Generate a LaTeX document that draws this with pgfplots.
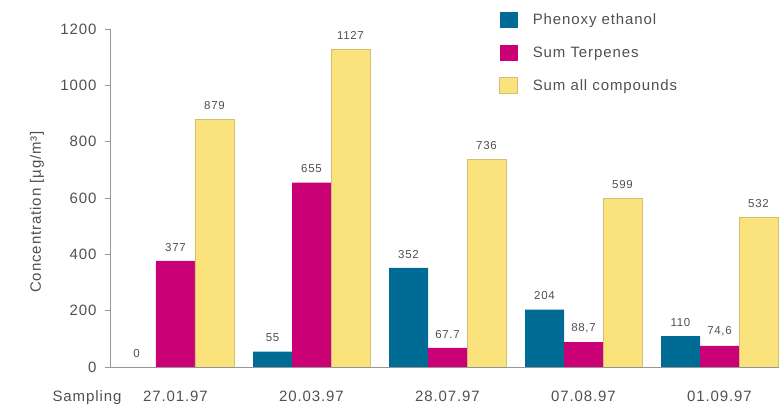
\documentclass[border=0pt]{standalone}
\usepackage{fontspec}
\usepackage{pgfplots}
\pgfplotsset{compat=1.18}
\setmainfont{Liberation Sans}[LetterSpace=6.0]
\newfontfamily\chartfont{Liberation Sans}[LetterSpace=6.0]
\newcommand\lblfont{\chartfont\fontsize{15bp}{18bp}\selectfont}
\newcommand\valfont{\chartfont\fontsize{11.5bp}{14bp}\selectfont}

\definecolor{phenoxy}{RGB}{0,108,150}
\definecolor{terpene}{RGB}{202,0,118}
\definecolor{allcomp}{RGB}{250,226,125}
\definecolor{allcompedge}{RGB}{214,190,112}
\definecolor{axisgray}{RGB}{150,150,150}
\definecolor{textgray}{RGB}{80,80,80}

\begin{document}
\begin{tikzpicture}
\useasboundingbox (-110bp,-43bp) rectangle (669bp,367bp);
\begin{axis}[
  at={(0,0)}, anchor=south west,
  scale only axis, width=669bp, height=338bp,
  xmin=-0.4816, xmax=4.4375, ymin=0, ymax=1200,
  ybar=0pt, bar width=39bp,
  axis x line*=bottom, axis y line*=left,
  axis line style={draw=axisgray, line width=0.6bp},
  xtick={0,1,2,3,4},
  xticklabels={27.01.97,20.03.97,28.07.97,07.08.97,01.09.97},
  ytick={0,200,400,600,800,1000,1200},
  tick align=outside, major tick length=5bp,
  tick style={draw=axisgray, line width=0.6bp},
  x tick style={draw=none},
  /pgf/number format/assume math mode=true,
  /pgf/number format/1000 sep={},
  ticklabel style={font=\lblfont, text=textgray},
  xticklabel style={anchor=base, yshift=-29bp},
  yticklabel style={xshift=-5bp},
  ylabel={Concentration [µg/m³]},
  ylabel style={font=\lblfont, text=textgray, at={(axis description cs:-0.109,0.4586)}, anchor=center},
  nodes near coords,
  point meta=explicit symbolic,
  nodes near coords style={font=\valfont, text=textgray, anchor=south, yshift=6bp},
  legend cell align=left,
  legend image code/.code={\path[#1] (0bp,-8bp) rectangle (18bp,8bp);},
  legend style={at={(axis description cs:0.5815,1.0503)}, anchor=north west,
    draw=none, fill=none, inner sep=0pt, row sep=16.5bp, column sep=15bp,
    font=\lblfont, text=textgray, nodes={inner sep=0pt}},
]
\addplot[fill=phenoxy, draw=none] coordinates {
  (0,0) [0] (1,55) [55] (2,352) [352] (3,204) [204] (4,110) [110]};
\addlegendentry{Phenoxy ethanol}
\addplot[fill=terpene, draw=none] coordinates {
  (0,377) [377] (1,655) [655] (2,67.7) [67.7] (3,88.7) [{88,7}] (4,74.6) [{74,6}]};
\addlegendentry{Sum Terpenes}
\addplot[fill=allcomp, draw=allcompedge, line width=0.6bp] coordinates {
  (0,879) [879] (1,1127) [1127] (2,736) [736] (3,599) [599] (4,532) [532]};
\addlegendentry{Sum all compounds}
\end{axis}
% row caption to the left of the sampling dates
\node[font=\lblfont, text=textgray, anchor=base] at (-23bp,-34bp) {Sampling};
\end{tikzpicture}
\end{document}
